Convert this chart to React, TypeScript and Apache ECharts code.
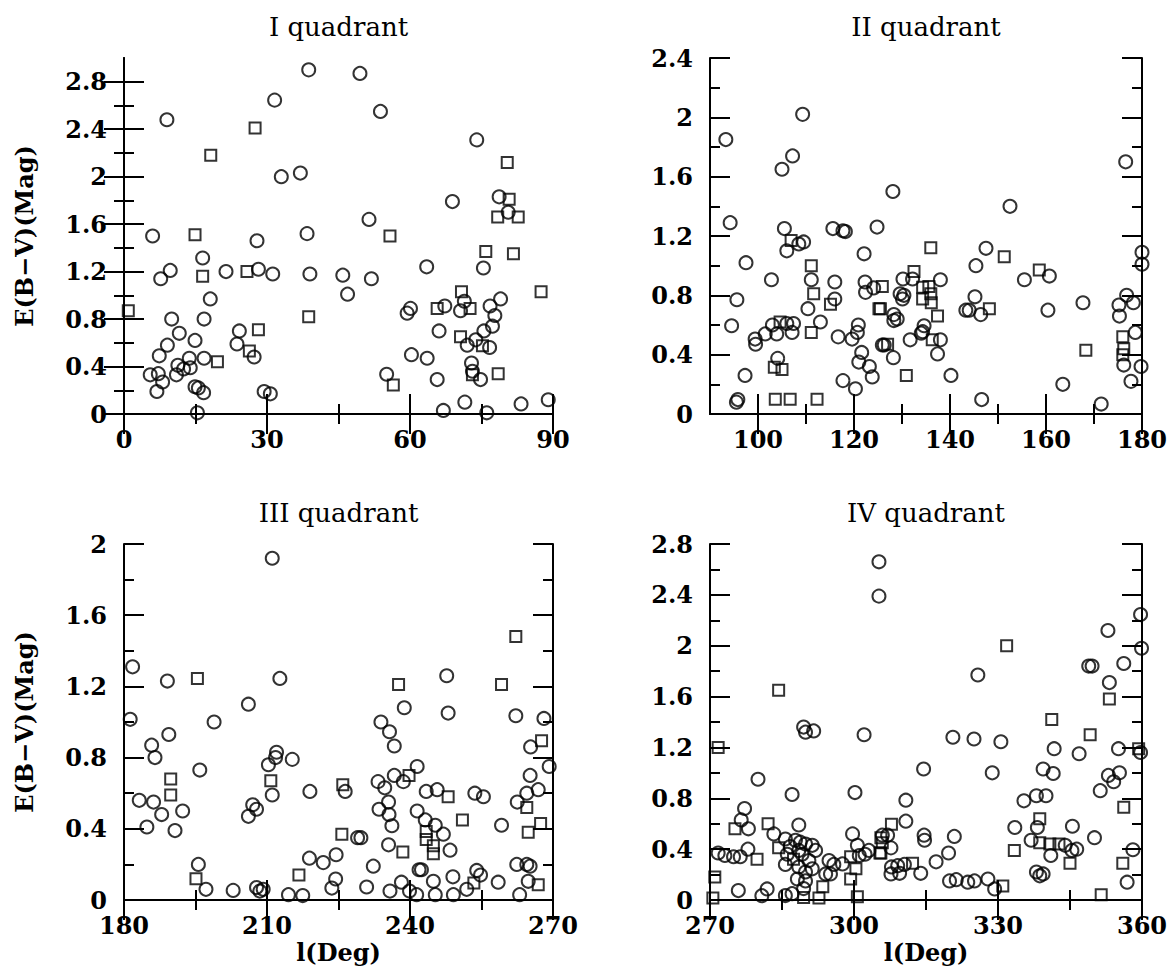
import React, { useEffect, useRef } from "react";
import * as echarts from "echarts";

// ---------- Panel I (0-90 deg) ----------
const q1CircleL = [38.75, 31.6, 9.0, 33.0, 37.0, 6.0, 38.4, 27.9, 16.5, 9.7, 7.7, 21.4, 28.2, 31.2, 39.0, 18.1, 10.0, 16.8, 11.6, 14.9, 24.2, 9.1, 23.7, 27.3, 7.4, 13.7, 16.8, 11.3, 12.5, 13.9, 11.0, 5.5, 7.2, 8.1, 6.9, 14.9, 15.6, 16.7, 29.4, 30.7, 15.4,
  49.5, 53.8, 74.0, 68.9, 78.7, 80.6, 51.4, 63.5, 75.4, 45.9, 51.9, 46.9, 60.1, 59.4, 67.3, 70.6, 71.4, 76.8, 79.0, 77.8, 77.3, 75.5, 66.1, 72.0, 73.8, 76.7, 60.3, 63.6, 72.9, 73.1, 74.8, 55.1, 65.7, 67.0, 71.5, 76.1, 83.3, 89.0];
const q1CircleE = [2.90, 2.645, 2.48, 2.00, 2.03, 1.50, 1.52, 1.46, 1.315, 1.21, 1.14, 1.20, 1.22, 1.18, 1.18, 0.97, 0.80, 0.80, 0.68, 0.62, 0.70, 0.58, 0.59, 0.48, 0.49, 0.47, 0.47, 0.41, 0.38, 0.39, 0.33, 0.33, 0.34, 0.27, 0.19, 0.23, 0.22, 0.18, 0.19, 0.17, 0.01,
  2.87, 2.55, 2.31, 1.79, 1.83, 1.70, 1.64, 1.24, 1.23, 1.17, 1.14, 1.01, 0.89, 0.85, 0.91, 0.87, 0.95, 0.91, 0.97, 0.83, 0.74, 0.70, 0.70, 0.58, 0.625, 0.56, 0.50, 0.47, 0.43, 0.36, 0.29, 0.335, 0.29, 0.03, 0.10, 0.01, 0.085, 0.12];
const q1SquareL = [27.5, 18.2, 14.9, 16.5, 25.8, 0.9, 38.75, 28.2, 26.3, 19.6, 80.4, 80.8, 78.4, 82.7, 55.8, 75.9, 81.7, 70.8, 65.7, 72.6, 70.6, 75.2, 73.1, 78.5, 56.5, 87.5];
const q1SquareE = [2.41, 2.18, 1.51, 1.16, 1.20, 0.87, 0.82, 0.71, 0.53, 0.44, 2.12, 1.81, 1.66, 1.66, 1.50, 1.37, 1.35, 1.03, 0.89, 0.89, 0.65, 0.575, 0.33, 0.34, 0.245, 1.03];
const q1XTicks = [0, 30, 60, 90];
const q1XMinor = [15, 45, 75];
const q1YTicks = [0, 0.4, 0.8, 1.2, 1.6, 2, 2.4, 2.8];
const q1YMinor = [0.2, 0.6, 1.0, 1.4, 1.8, 2.2, 2.6];

// ---------- Panel II (90-180 deg) ----------
const q2CircleL = [93.3, 109.3, 107.2, 105.0, 94.2, 105.5, 115.6, 117.7, 118.2, 124.8, 106.0, 108.5, 109.5, 122.1, 97.5, 102.8, 111.1, 116.0, 122.3, 122.4, 124.1, 95.6, 116.0, 110.4, 94.5, 103.0, 106.0, 107.4, 107.1, 103.9, 101.5, 99.4, 99.5, 113.0, 116.7, 119.6, 120.7, 120.9, 125.9, 121.6, 121.0, 123.2, 123.8, 104.1, 97.3, 117.7, 120.3, 95.8, 95.5,
  176.6, 128.1, 152.5, 147.5, 145.4, 180.0, 180.0, 160.7, 155.5, 130.2, 132.2, 138.0, 129.6, 130.1, 130.4, 145.2, 167.7, 176.8, 178.2, 175.2, 175.3, 128.3, 129.0, 128.3, 143.3, 144.0, 146.4, 160.4, 134.6, 134.3, 134.0, 131.7, 138.0, 126.3, 128.2, 137.4, 140.2, 146.6, 178.6, 176.2, 179.8, 177.7, 163.5, 171.5];
const q2CircleE = [1.85, 2.02, 1.74, 1.65, 1.29, 1.25, 1.25, 1.235, 1.23, 1.26, 1.10, 1.146, 1.16, 1.08, 1.02, 0.905, 0.905, 0.89, 0.89, 0.82, 0.85, 0.77, 0.775, 0.71, 0.595, 0.60, 0.61, 0.61, 0.55, 0.54, 0.54, 0.505, 0.47, 0.62, 0.52, 0.505, 0.55, 0.60, 0.465, 0.415, 0.35, 0.32, 0.25, 0.375, 0.26, 0.225, 0.17, 0.097, 0.08,
  1.70, 1.50, 1.40, 1.117, 1.00, 1.09, 1.01, 0.93, 0.905, 0.91, 0.91, 0.905, 0.81, 0.775, 0.80, 0.79, 0.75, 0.80, 0.75, 0.735, 0.66, 0.67, 0.64, 0.63, 0.70, 0.70, 0.67, 0.70, 0.595, 0.555, 0.545, 0.50, 0.50, 0.465, 0.38, 0.405, 0.26, 0.097, 0.55, 0.33, 0.32, 0.22, 0.20, 0.067];
const q2SquareL = [106.9, 111.1, 111.6, 115.1, 125.2, 104.6, 111.1, 103.4, 105.0, 103.6, 106.7, 112.3, 136.0, 151.3, 158.6, 132.5, 125.9, 134.3, 135.6, 134.3, 136.0, 136.1, 137.4, 125.5, 148.2, 136.3, 127.0, 130.9, 176.0, 176.2, 176.0, 168.3];
const q2SquareE = [1.17, 1.0, 0.81, 0.74, 0.71, 0.62, 0.55, 0.315, 0.30, 0.10, 0.10, 0.10, 1.12, 1.06, 0.97, 0.96, 0.86, 0.855, 0.86, 0.775, 0.81, 0.75, 0.66, 0.71, 0.71, 0.50, 0.47, 0.26, 0.52, 0.44, 0.40, 0.43];
const q2XTicks = [100, 120, 140, 160, 180];
const q2XMinor = [110, 130, 150, 170];
const q2YTicks = [0, 0.4, 0.8, 1.2, 1.6, 2, 2.4];
const q2YMinor = [0.2, 0.6, 1.0, 1.4, 1.8, 2.2];

// ---------- Panel III (180-270 deg) ----------
const q3CircleL = [211.1, 181.8, 189.1, 212.7, 206.1, 181.3, 198.9, 189.4, 185.8, 186.5, 212.0, 211.8, 210.3, 215.3, 195.9, 211.1, 219.0, 183.2, 186.2, 187.9, 192.3, 207.0, 207.8, 206.1, 184.8, 190.7, 218.9, 221.8, 195.6, 197.2, 202.9, 207.8, 209.2, 208.5, 214.5, 217.5,
  247.7, 238.8, 248.0, 262.2, 268.1, 233.9, 235.7, 236.7, 265.3, 269.2, 265.2, 241.5, 236.7, 238.6, 233.3, 234.7, 226.4, 266.9, 264.5, 243.4, 245.7, 253.6, 255.4, 262.5, 235.5, 233.5, 235.6, 241.5, 243.2, 245.3, 259.2, 236.2, 247.0, 229.0, 229.7, 235.5, 248.4, 224.5, 232.3, 241.9, 242.4, 262.4, 264.5, 265.2, 249.0, 254.0, 254.8, 258.5, 264.8, 224.4, 223.6, 230.9, 244.9, 235.8, 238.2, 239.9, 241.4, 245.3, 249.1, 251.9, 263.0];
const q3CircleE = [1.92, 1.31, 1.23, 1.245, 1.10, 1.015, 1.00, 0.93, 0.87, 0.80, 0.83, 0.80, 0.76, 0.79, 0.73, 0.59, 0.61, 0.56, 0.55, 0.48, 0.50, 0.535, 0.51, 0.47, 0.41, 0.39, 0.235, 0.21, 0.20, 0.06, 0.054, 0.07, 0.06, 0.05, 0.03, 0.025,
  1.26, 1.08, 1.05, 1.035, 1.02, 1.00, 0.945, 0.865, 0.86, 0.75, 0.70, 0.75, 0.70, 0.665, 0.665, 0.63, 0.61, 0.62, 0.60, 0.61, 0.62, 0.60, 0.58, 0.55, 0.55, 0.51, 0.48, 0.50, 0.45, 0.42, 0.42, 0.417, 0.37, 0.35, 0.35, 0.31, 0.28, 0.254, 0.19, 0.17, 0.17, 0.20, 0.20, 0.19, 0.13, 0.166, 0.14, 0.10, 0.105, 0.118, 0.067, 0.073, 0.105, 0.05, 0.10, 0.05, 0.03, 0.03, 0.03, 0.06, 0.03];
const q3SquareL = [195.4, 189.8, 189.8, 210.8, 195.1, 216.7, 262.2, 237.6, 259.2, 267.6, 239.8, 225.9, 248.0, 264.5, 251.0, 267.4, 264.8, 243.4, 243.4, 225.7, 238.5, 244.9, 244.9, 253.4, 266.9];
const q3SquareE = [1.245, 0.68, 0.59, 0.67, 0.12, 0.14, 1.48, 1.21, 1.21, 0.895, 0.70, 0.647, 0.58, 0.52, 0.45, 0.43, 0.38, 0.385, 0.34, 0.37, 0.27, 0.305, 0.26, 0.095, 0.086];
const q3XTicks = [180, 210, 240, 270];
const q3XMinor = [195, 225, 255];
const q3YTicks = [0, 0.4, 0.8, 1.2, 1.6, 2];
const q3YMinor = [0.2, 0.6, 1.0, 1.4, 1.8];

// ---------- Panel IV (270-360 deg) ----------
const q4CircleL = [305.2, 305.2, 289.5, 291.6, 289.9, 302.1, 280.0, 287.1, 300.2, 277.2, 276.5, 278.0, 283.3, 288.5, 285.7, 286.7, 287.8, 288.8, 289.9, 291.3, 286.1, 289.2, 290.6, 292.0, 285.7, 288.5, 289.9, 291.3, 288.2, 289.9, 289.5, 287.1, 285.7, 288.5, 271.7, 273.1, 274.9, 276.3, 277.9, 275.9, 281.9, 280.8, 294.8, 295.8, 294.1, 295.1, 297.6, 299.7, 300.7, 301.1, 303.1, 302.3,
  359.7, 352.9, 359.9, 348.9, 349.6, 356.2, 325.8, 353.2, 320.6, 325.0, 330.6, 341.7, 355.1, 359.7, 346.9, 314.5, 328.8, 339.4, 341.5, 353.0, 355.3, 354.1, 351.3, 310.8, 335.4, 338.0, 340.0, 310.8, 305.9, 307.0, 307.7, 314.6, 314.7, 320.9, 333.5, 338.2, 345.5, 350.1, 336.9, 344.0, 345.4, 346.4, 319.7, 317.1, 341.0, 358.1, 356.9, 338.0, 339.4, 338.7, 307.8, 309.1, 310.5, 307.7, 309.5, 313.9, 319.9, 321.3, 323.7, 325.1, 327.9, 329.3];
const q4CircleE = [2.66, 2.39, 1.36, 1.33, 1.32, 1.30, 0.95, 0.83, 0.845, 0.72, 0.63, 0.56, 0.52, 0.59, 0.48, 0.42, 0.47, 0.455, 0.44, 0.43, 0.36, 0.36, 0.31, 0.39, 0.28, 0.26, 0.22, 0.245, 0.165, 0.15, 0.09, 0.05, 0.035, 0.39, 0.37, 0.35, 0.34, 0.34, 0.40, 0.074, 0.087, 0.034, 0.31, 0.28, 0.205, 0.205, 0.284, 0.52, 0.43, 0.35, 0.39, 0.36,
  2.245, 2.12, 1.98, 1.84, 1.84, 1.86, 1.77, 1.71, 1.28, 1.266, 1.245, 1.19, 1.19, 1.16, 1.15, 1.03, 1.0, 1.03, 0.995, 0.98, 1.0, 0.93, 0.86, 0.785, 0.78, 0.82, 0.82, 0.62, 0.51, 0.51, 0.41, 0.51, 0.47, 0.50, 0.57, 0.57, 0.58, 0.49, 0.47, 0.43, 0.39, 0.40, 0.37, 0.30, 0.35, 0.395, 0.14, 0.22, 0.205, 0.19, 0.26, 0.27, 0.28, 0.205, 0.21, 0.21, 0.15, 0.16, 0.14, 0.15, 0.165, 0.087];
const q4SquareL = [284.3, 271.7, 275.2, 282.1, 279.8, 284.3, 271.0, 270.6, 293.5, 299.3, 300.4, 299.3, 300.7, 305.6, 305.6, 287.4, 289.5, 292.7, 331.8, 353.2, 341.2, 349.2, 359.3, 356.2, 307.8, 305.9, 305.4, 338.7, 338.7, 340.8, 342.7, 333.4, 345.0, 356.0, 351.5, 312.2, 331.0];
const q4SquareE = [1.65, 1.20, 0.56, 0.60, 0.32, 0.41, 0.18, 0.016, 0.105, 0.34, 0.245, 0.166, 0.026, 0.37, 0.49, 0.32, 0.02, 0.015, 2.0, 1.58, 1.42, 1.30, 1.19, 0.73, 0.595, 0.45, 0.37, 0.64, 0.45, 0.44, 0.44, 0.39, 0.29, 0.29, 0.042, 0.29, 0.11];
const q4XTicks = [270, 300, 330, 360];
const q4XMinor = [285, 315, 345];
const q4YTicks = [0, 0.4, 0.8, 1.2, 1.6, 2, 2.4, 2.8];
const q4YMinor = [0.2, 0.6, 1.0, 1.4, 1.8, 2.2, 2.6];

const titles = ["I quadrant", "II quadrant", "III quadrant", "IV quadrant"];
const yName = "E(B\u2212V)(Mag)";
const xName = "l(Deg)";

const zip = (a: number[], b: number[]) => a.map((v, i) => [v, b[i]]);

const TICK_FONT = { color: "#000", fontFamily: "DejaVu Serif", fontWeight: "bold" as const, fontSize: 24, lineHeight: 22 };
const LINE = { color: "#000", width: 2 };

const panels = [
  { cL: q1CircleL, cE: q1CircleE, sL: q1SquareL, sE: q1SquareE, xMin: 0, xMax: 90, yMax: 3, xT: q1XTicks, xM: q1XMinor, yT: q1YTicks, yM: q1YMinor, left: 124, top: 58, width: 429, height: 356 },
  { cL: q2CircleL, cE: q2CircleE, sL: q2SquareL, sE: q2SquareE, xMin: 90, xMax: 180, yMax: 2.4, xT: q2XTicks, xM: q2XMinor, yT: q2YTicks, yM: q2YMinor, left: 710, top: 58, width: 432, height: 356 },
  { cL: q3CircleL, cE: q3CircleE, sL: q3SquareL, sE: q3SquareE, xMin: 180, xMax: 270, yMax: 2, xT: q3XTicks, xM: q3XMinor, yT: q3YTicks, yM: q3YMinor, left: 124, top: 544, width: 429, height: 356 },
  { cL: q4CircleL, cE: q4CircleE, sL: q4SquareL, sE: q4SquareE, xMin: 270, xMax: 360, yMax: 2.8, xT: q4XTicks, xM: q4XMinor, yT: q4YTicks, yM: q4YMinor, left: 710, top: 544, width: 432, height: 356 },
];

function buildOption() {
  const grid: any[] = [];
  const xAxis: any[] = [];
  const yAxis: any[] = [];
  const series: any[] = [];
  const graphic: any[] = [];
  const fmt = (v: number) => String(Math.round(v * 10) / 10);

  panels.forEach((p, i) => {
    grid.push({ left: p.left, top: p.top, width: p.width, height: p.height, show: false });
    const bx = { type: "value", gridIndex: i, min: p.xMin, max: p.xMax, splitLine: { show: false }, axisLine: { show: false }, axisLabel: { show: false } };
    const by = { type: "value", gridIndex: i, min: 0, max: p.yMax, splitLine: { show: false }, axisLine: { show: false }, axisLabel: { show: false } };
    const major = (vals: number[]) => ({ show: true, inside: true, length: 20, customValues: vals, lineStyle: LINE });
    const minor = (vals: number[]) => ({ show: true, inside: true, length: 10, customValues: vals, lineStyle: LINE });

    xAxis.push({ ...bx, position: "bottom", axisLine: { show: true, lineStyle: LINE }, axisTick: major(p.xT), axisLabel: { show: true, customValues: p.xT, margin: 14, formatter: fmt, ...TICK_FONT } });
    xAxis.push({ ...bx, position: "bottom", axisTick: minor(p.xM) });
    xAxis.push({ ...bx, position: "top", axisLine: { show: true, lineStyle: LINE }, axisTick: major(p.xT) });
    xAxis.push({ ...bx, position: "top", axisTick: minor(p.xM) });

    yAxis.push({ ...by, position: "left", axisLine: { show: true, lineStyle: LINE }, axisTick: major(p.yT), axisLabel: { show: true, customValues: p.yT, margin: 17, formatter: fmt, ...TICK_FONT } });
    yAxis.push({ ...by, position: "left", axisTick: minor(p.yM) });
    yAxis.push({ ...by, position: "right", axisLine: { show: true, lineStyle: LINE }, axisTick: major(p.yT) });
    yAxis.push({ ...by, position: "right", axisTick: minor(p.yM) });

    series.push({
      type: "scatter", xAxisIndex: 4 * i, yAxisIndex: 4 * i, data: zip(p.cL, p.cE),
      symbol: "circle", symbolSize: 13, silent: true,
      itemStyle: { color: "rgba(255,255,255,0)", borderColor: "#000", borderWidth: 2 },
    });
    series.push({
      type: "scatter", xAxisIndex: 4 * i, yAxisIndex: 4 * i, data: zip(p.sL, p.sE),
      symbol: "rect", symbolSize: 11, silent: true,
      itemStyle: { color: "rgba(255,255,255,0)", borderColor: "#000", borderWidth: 2 },
    });

    const cx = p.left + p.width / 2;
    graphic.push({
      type: "text", x: cx, y: p.top - 31,
      style: { text: titles[i], fill: "#000", font: 'normal 26px "DejaVu Serif"', align: "center", verticalAlign: "middle", textAlign: "center", textVerticalAlign: "middle" },
    });
    if (i === 0 || i === 2) {
      graphic.push({
        type: "text", x: 24, y: p.top + p.height / 2, rotation: Math.PI / 2,
        style: { text: yName, fill: "#000", font: 'bold 24px "DejaVu Serif"', align: "center", verticalAlign: "middle", textAlign: "center", textVerticalAlign: "middle" },
      });
    }
    if (i === 2 || i === 3) {
      graphic.push({
        type: "text", x: cx, y: p.top + p.height + 52,
        style: { text: xName, fill: "#000", font: 'bold 24px "DejaVu Serif"', align: "center", verticalAlign: "middle", textAlign: "center", textVerticalAlign: "middle" },
      });
    }
  });

  return { animation: false, backgroundColor: "#fff", grid, xAxis, yAxis, series, graphic };
}

export default function App() {
  const ref = useRef<HTMLDivElement>(null);
  useEffect(() => {
    if (!ref.current) return;
    const chart = echarts.init(ref.current, undefined, { renderer: "svg" });
    chart.setOption(buildOption() as any);
    return () => chart.dispose();
  }, []);
  return <div ref={ref} style={{ position: "fixed", left: 0, top: 0, width: 1172, height: 971, background: "#fff" }} />;
}
